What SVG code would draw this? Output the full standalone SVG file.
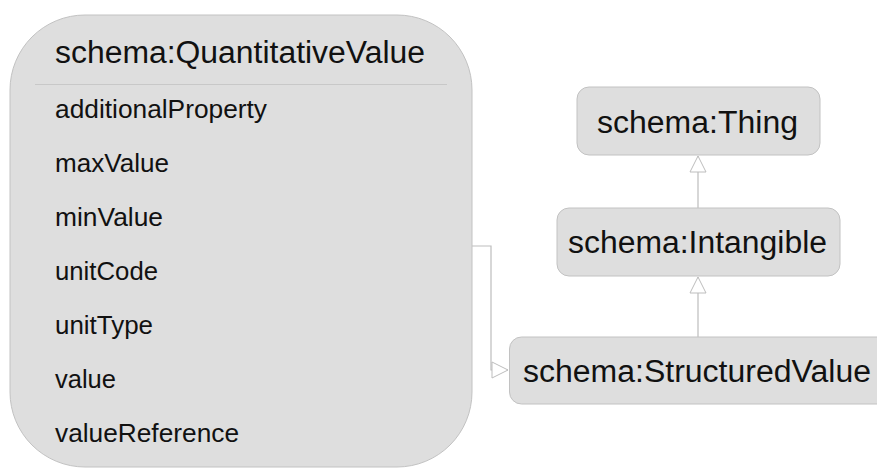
<svg xmlns="http://www.w3.org/2000/svg" width="877" height="470" viewBox="0 0 877 470">
<style>
.node{fill:#dedede;stroke:#c2c2c2;stroke-width:1}
.t{font-family:"Liberation Sans",Arial,sans-serif;fill:#111}
.h{font-size:31px}
.a{font-size:25px}
.c{fill:none;stroke:#bdbdbd;stroke-width:1.2}
</style>
<defs>
<marker id="tri" markerUnits="userSpaceOnUse" markerWidth="18" markerHeight="18" refX="16" refY="8" orient="auto" viewBox="-1 -1 18 18">
<path d="M0,0 L16,8 L0,16 Z" fill="#fff" stroke="#bdbdbd" stroke-width="1"/>
</marker>
</defs>
<rect width="877" height="470" fill="#fff"/>
<g id="connectors">
<path class="c" d="M472,246 H491 V370 H508" marker-end="url(#tri)"/>
<path class="c" d="M698,208 V156" marker-end="url(#tri)"/>
<path class="c" d="M698,337 V277" marker-end="url(#tri)"/>
</g>
<g id="QuantitativeValue">
<rect class="node" x="10" y="15" width="462" height="452" rx="75" ry="75"/>
<line x1="35" y1="84.5" x2="447" y2="84.5" stroke="#c8c8c8" stroke-width="1"/>
<text class="t h" x="55" y="63" textLength="370" lengthAdjust="spacingAndGlyphs">schema:QuantitativeValue</text>
<text class="t a" x="55" y="118" textLength="212" lengthAdjust="spacingAndGlyphs">additionalProperty</text>
<text class="t a" x="55" y="172" textLength="114" lengthAdjust="spacingAndGlyphs">maxValue</text>
<text class="t a" x="55" y="226" textLength="108" lengthAdjust="spacingAndGlyphs">minValue</text>
<text class="t a" x="55" y="280" textLength="103" lengthAdjust="spacingAndGlyphs">unitCode</text>
<text class="t a" x="55" y="334" textLength="98" lengthAdjust="spacingAndGlyphs">unitType</text>
<text class="t a" x="55" y="388" textLength="61" lengthAdjust="spacingAndGlyphs">value</text>
<text class="t a" x="55" y="442" textLength="184" lengthAdjust="spacingAndGlyphs">valueReference</text>
</g>
<g id="Thing">
<rect class="node" x="577" y="87" width="243" height="68" rx="12" ry="12"/>
<text class="t h" x="597" y="133" textLength="201" lengthAdjust="spacingAndGlyphs">schema:Thing</text>
</g>
<g id="Intangible">
<rect class="node" x="557" y="208" width="283" height="68" rx="12" ry="12"/>
<text class="t h" x="568" y="253" textLength="259" lengthAdjust="spacingAndGlyphs">schema:Intangible</text>
</g>
<g id="StructuredValue">
<rect class="node" x="509.5" y="337" width="380" height="67" rx="12" ry="12"/>
<text class="t h" x="523" y="382" textLength="348" lengthAdjust="spacingAndGlyphs">schema:StructuredValue</text>
</g>
</svg>
